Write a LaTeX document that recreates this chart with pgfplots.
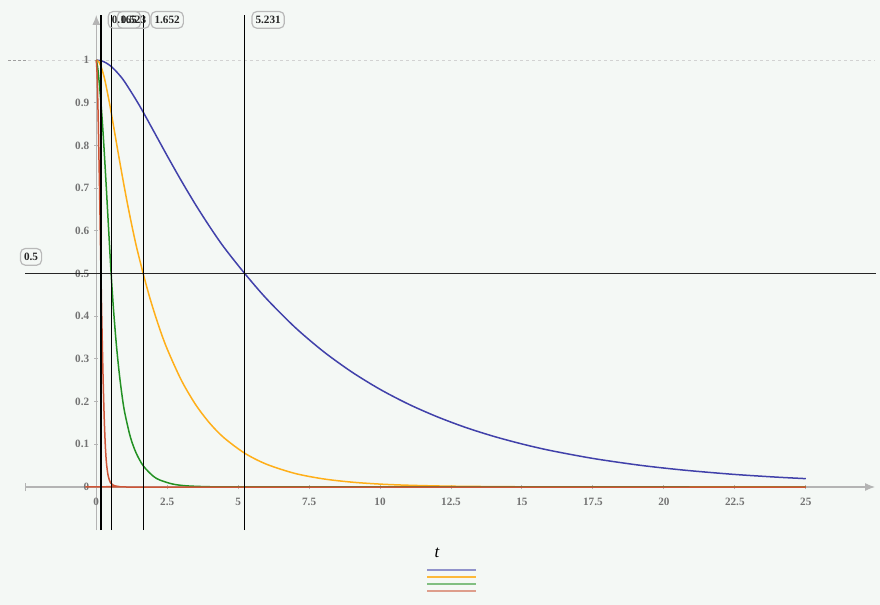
\documentclass[border=0pt]{standalone}
\usepackage{pgfplots}
\pgfplotsset{compat=1.18}
\usepackage{fontspec}
\setmainfont{Liberation Serif}
\usetikzlibrary{arrows.meta}
\definecolor{bg}{RGB}{244,248,245}
\definecolor{cblue}{RGB}{65,65,170}
\definecolor{corange}{RGB}{255,175,25}
\definecolor{cgreen}{RGB}{35,145,35}
\definecolor{cred}{RGB}{205,85,55}
\definecolor{axgray}{RGB}{180,180,180}
\definecolor{lblgray}{RGB}{115,115,115}
\begin{document}
\begin{tikzpicture}
\fill[bg] (0,0) rectangle (440pt,-302.5pt);
\begin{axis}[
  at={(12.5pt,-265pt)}, anchor=south west,
  scale only axis, width=425pt, height=257.5pt,
  xmin=-2.512, xmax=27.44, ymin=-0.1007, ymax=1.1054,
  axis lines=middle, clip=false,
  x axis line style={axgray, line width=0.6pt, {Bar[width=4pt]}-{Latex[length=5pt,width=4pt]}},
  y axis line style={axgray, line width=0.6pt, -{Latex[length=5pt,width=4pt]}},
  xtick={0,2.5,5,7.5,10,12.5,15,17.5,20,22.5,25},
  ytick={0,0.1,0.2,0.3,0.4,0.5,0.6,0.7,0.8,0.9,1},
  hide obscured x ticks=false, hide obscured y ticks=false,
  tick align=center, major tick length=2pt,
  tick style={axgray, line width=0.5pt},
  /pgf/number format/assume math mode=true,
  ticklabel style={font=\fontsize{5.6}{6}\selectfont\bfseries, text=lblgray},
  xticklabel style={yshift=-1pt},
  yticklabel style={xshift=1pt},
]
% reference line y = 1
\addplot[gray!35, dash pattern=on 1.5pt off 1.5pt, line width=0.4pt] coordinates {(-2.4,1) (27.44,1)};
\addplot[gray!75, dash pattern=on 1.2pt off 1.3pt, line width=0.5pt] coordinates {(-3.1,1) (-2.4,1)};
% curves
\addplot[cblue, line width=0.75pt, smooth] coordinates {
(0,1.000) (0.25,0.9965) (0.5,0.9863) (0.75,0.9698) (1.0,0.9489) (1.5,0.8958) (2.0,0.8361)
(2.5,0.7755) (3.0,0.7168) (3.5,0.6611) (4.0,0.6093) (4.5,0.5613) (5.231,0.500)
(6.0,0.4408) (7.0,0.3741) (8.0,0.3175) (9.0,0.2695) (10,0.2287) (11,0.1941) (12,0.1648)
(13,0.1398) (14,0.1187) (15,0.1008) (16,0.0855) (17.5,0.0669) (19,0.0523) (20,0.0444)
(21,0.0377) (22.5,0.0294) (24,0.0230) (25,0.0196)};
\addplot[corange, line width=0.75pt, smooth] coordinates {
(0,1.000) (0.079,0.9965) (0.158,0.9863) (0.237,0.9698) (0.316,0.9489) (0.474,0.8958)
(0.632,0.8361) (0.790,0.7755) (0.948,0.7168) (1.105,0.6611) (1.263,0.6093) (1.421,0.5613)
(1.652,0.500) (1.9,0.440) (2.2,0.377) (2.5,0.323) (3.0,0.2497) (3.5,0.1930) (4.0,0.1492)
(4.5,0.1153) (5.231,0.0791) (6.0,0.0533) (7.0,0.0318) (8.0,0.0190) (9.0,0.0114)
(10,0.0068) (11,0.0041) (12.5,0.0019) (15,0.0005) (18,0.0001) (25,0)};
\addplot[cgreen, line width=0.75pt, smooth] coordinates {
(0,1.000) (0.05,0.982) (0.1,0.950) (0.15,0.912) (0.2,0.868) (0.25,0.818) (0.3,0.763)
(0.35,0.705) (0.4,0.645) (0.45,0.585) (0.523,0.500) (0.6,0.422) (0.7,0.339) (0.8,0.272)
(0.9,0.218) (1.0,0.175) (1.2,0.1174) (1.4,0.0803) (1.652,0.0498) (2.0,0.0257)
(2.24,0.0163) (2.7,0.0068) (3.2,0.0026) (4.0,0.0006) (5,0.0001) (25,0)};
\addplot[cred, line width=0.75pt, smooth] coordinates {
(0,1.000) (0.03,0.965) (0.06,0.885) (0.09,0.785) (0.12,0.680) (0.165,0.500) (0.2,0.375)
(0.24,0.255) (0.28,0.160) (0.32,0.095) (0.36,0.055) (0.42,0.026) (0.5,0.010) (0.6,0.004)
(0.8,0.001) (1.2,0) (25,0)};
% markers
\addplot[black!85, line width=0.6pt] coordinates {(-2.5,0.5) (27.47,0.5)};
\addplot[black, line width=0.55pt] coordinates {(0.165,-0.1007) (0.165,1.1054)};
\addplot[black, line width=0.55pt] coordinates {(0.523,-0.1007) (0.523,1.1054)};
\addplot[black, line width=0.55pt] coordinates {(1.652,-0.1007) (1.652,1.1054)};
\addplot[black, line width=0.55pt] coordinates {(5.231,-0.1007) (5.231,1.1054)};
\tikzset{lbl/.style={draw=gray!55, rounded corners=2.5pt, inner xsep=1.8pt, inner ysep=2.3pt,
  line width=0.6pt, font=\fontsize{5.6}{6}\selectfont\bfseries, text=black!85}}
\node[lbl, anchor=west, xshift=3.3pt] at (axis cs:0.165,1.094) {0.165};
\node[lbl, anchor=west, xshift=2.8pt] at (axis cs:0.523,1.094) {0.523};
\node[lbl, anchor=west, xshift=3.6pt] at (axis cs:1.652,1.094) {1.652};
\node[lbl, anchor=west, xshift=3.3pt] at (axis cs:5.231,1.094) {5.231};
\node[lbl] at (axis cs:-2.30,0.539) {0.5};
\end{axis}
\node[font=\fontsize{8.5}{9}\selectfont\itshape] at (218.5pt,-276.5pt) {t};
\draw[cblue, opacity=0.55, line width=1pt] (213.5pt,-285pt) -- (238pt,-285pt);
\draw[corange, opacity=0.85, line width=1pt] (213.5pt,-288.5pt) -- (238pt,-288.5pt);
\draw[cgreen, opacity=0.55, line width=1pt] (213.5pt,-292pt) -- (238pt,-292pt);
\draw[cred, opacity=0.55, line width=1pt] (213.5pt,-295.5pt) -- (238pt,-295.5pt);
\end{tikzpicture}
\end{document}
